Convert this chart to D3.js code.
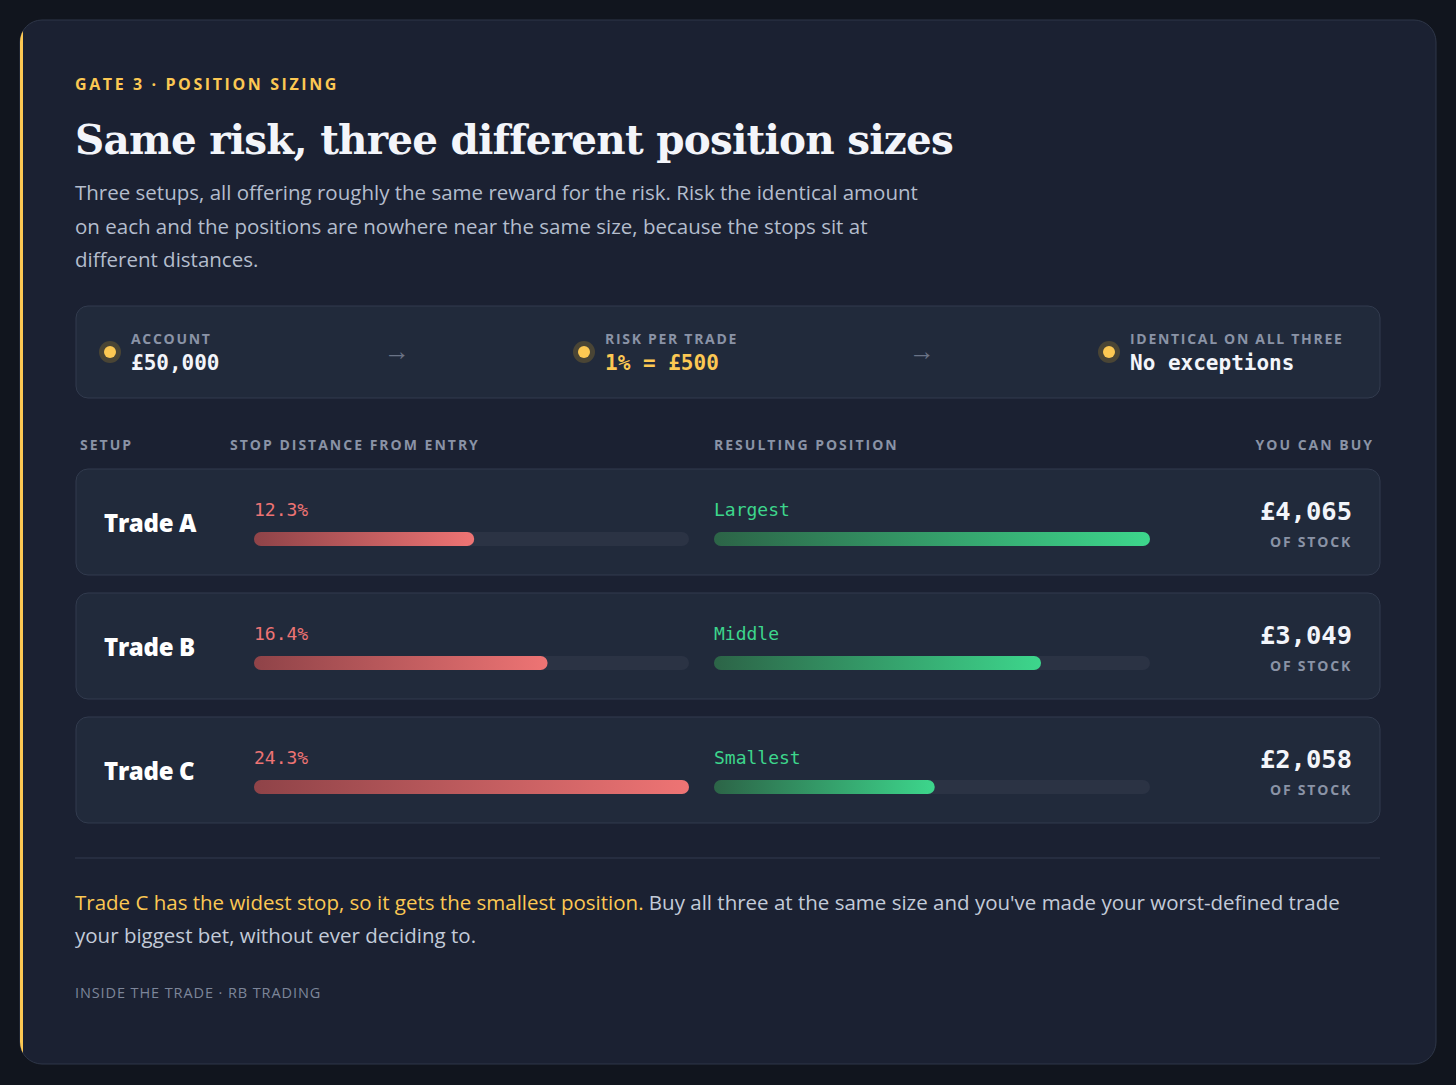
<!DOCTYPE html>
<html><head><meta charset="utf-8">
<script src="https://cdn.jsdelivr.net/npm/d3@7"></script>
<style>
  body { margin:0; background:#11151e; }
  svg text { font-family: "Open Sans", "Noto Sans", sans-serif; }
  .mono { font-family: "DejaVu Sans Mono", monospace !important; }
</style></head>
<body>
<svg id="chart" width="1456" height="1085"></svg>
<script>
// data
const trades = ["Trade A", "Trade B", "Trade C"];
const stopPct = [12.3, 16.4, 24.3];
const positionSize = [4065, 3049, 2058];
const sizeLabels = ["Largest", "Middle", "Smallest"];
const infoItems = [
  {label: "ACCOUNT", value: "£50,000", gold: false, x: 110},
  {label: "RISK PER TRADE", value: "1% = £500", gold: true, x: 584},
  {label: "IDENTICAL ON ALL THREE", value: "No exceptions", gold: false, x: 1109}
];
const subtitle = [
  "Three setups, all offering roughly the same reward for the risk. Risk the identical amount",
  "on each and the positions are nowhere near the same size, because the stops sit at",
  "different distances."
];

const svg = d3.select("#chart");
const defs = svg.append("defs");
const gold = "#fcc853", red = "#ee7474", green = "#3dd68c";

function grad(id, c0, c1) {
  const g = defs.append("linearGradient").attr("id", id);
  g.append("stop").attr("offset", "0%").attr("stop-color", c0);
  g.append("stop").attr("offset", "100%").attr("stop-color", c1);
}
grad("gRed", "#8f4348", red);
grad("gGreen", "#2c6447", green);

// card
defs.append("clipPath").attr("id", "cardClip").append("rect")
  .attr("x", 20).attr("y", 20).attr("width", 1416).attr("height", 1044).attr("rx", 22);
svg.append("rect").attr("x", 20).attr("y", 20).attr("width", 1416).attr("height", 1044).attr("rx", 22)
  .attr("fill", "#1b2132").attr("stroke", "#2e3648");
svg.append("rect").attr("clip-path", "url(#cardClip)").attr("x", 20).attr("y", 20)
  .attr("width", 3).attr("height", 1044).attr("fill", gold);

// header
svg.append("text").attr("x", 75).attr("y", 90).attr("fill", gold)
  .attr("font-size", 16).attr("font-weight", 700).attr("letter-spacing", 2.6)
  .text("GATE 3 · POSITION SIZING");
svg.append("text").attr("x", 75).attr("y", 154).attr("fill", "#f3f5fa")
  .style("font-family", "'DejaVu Serif', Georgia, serif").attr("font-size", 40.5).attr("font-weight", 700)
  .attr("letter-spacing", -0.8)
  .text("Same risk, three different position sizes");
svg.append("g").selectAll("text").data(subtitle).join("text")
  .attr("x", 75).attr("y", (d, i) => 200 + i * 33.5)
  .attr("fill", "#b4bdcd").attr("font-size", 20.5).text(d => d);

// info bar
svg.append("rect").attr("x", 76).attr("y", 306).attr("width", 1304).attr("height", 92).attr("rx", 12)
  .attr("fill", "#212a3b").attr("stroke", "#323b4e");
const info = svg.append("g").selectAll("g").data(infoItems).join("g")
  .attr("transform", d => `translate(${d.x},352)`);
info.append("circle").attr("r", 11).attr("fill", "#4a4535");
info.append("circle").attr("r", 6).attr("fill", gold);
info.append("text").attr("x", 21).attr("y", -8).attr("fill", "#8a93a6")
  .attr("font-size", 14).attr("font-weight", 700).attr("letter-spacing", 1.7).text(d => d.label);
info.append("text").attr("class", "mono").attr("x", 21).attr("y", 18)
  .attr("fill", d => d.gold ? gold : "#f3f5fa").attr("font-size", 21).attr("font-weight", 700)
  .text(d => d.value);
svg.append("g").selectAll("text").data([397, 922]).join("text")
  .attr("x", d => d).attr("y", 360).attr("text-anchor", "middle")
  .attr("fill", "#6a7386").attr("font-size", 26).text("→");

// column headers
const heads = [["SETUP", 80, "start"], ["STOP DISTANCE FROM ENTRY", 230, "start"],
               ["RESULTING POSITION", 714, "start"], ["YOU CAN BUY", 1374, "end"]];
svg.append("g").selectAll("text").data(heads).join("text")
  .attr("x", d => d[1]).attr("y", 450).attr("text-anchor", d => d[2])
  .attr("fill", "#8a93a6").attr("font-size", 14).attr("font-weight", 700)
  .attr("letter-spacing", 2).text(d => d[0]);

// scales
const stopX = d3.scaleLinear().domain([0, d3.max(stopPct)]).range([0, 435]);
const posX = d3.scaleLinear().domain([0, d3.max(positionSize)]).range([0, 436]);
const rowY = d3.scaleBand().domain(trades).range([469, 823]).paddingInner(0.145);

const rows = svg.append("g").selectAll("g").data(trades).join("g")
  .attr("transform", d => `translate(0,${rowY(d)})`);
rows.append("rect").attr("x", 76).attr("width", 1304).attr("height", rowY.bandwidth()).attr("rx", 12)
  .attr("fill", "#212a3b").attr("stroke", "#323b4e");
rows.append("text").attr("x", 104).attr("y", 63).attr("fill", "#ffffff")
  .attr("font-size", 24).attr("font-weight", 800).attr("letter-spacing", -0.3).text(d => d);

const barY = 63, barH = 14;
// stop bars
rows.append("rect").attr("x", 254).attr("y", barY).attr("width", stopX.range()[1]).attr("height", barH)
  .attr("rx", 7).attr("fill", "#2b3344");
rows.append("rect").attr("x", 254).attr("y", barY).attr("width", (d, i) => stopX(stopPct[i])).attr("height", barH)
  .attr("rx", 7).attr("fill", "url(#gRed)");
rows.append("text").attr("class", "mono").attr("x", 254).attr("y", 47).attr("fill", red)
  .attr("font-size", 18).text((d, i) => stopPct[i].toFixed(1) + "%");
// position bars
rows.append("rect").attr("x", 714).attr("y", barY).attr("width", posX.range()[1]).attr("height", barH)
  .attr("rx", 7).attr("fill", "#2b3344");
rows.append("rect").attr("x", 714).attr("y", barY).attr("width", (d, i) => posX(positionSize[i])).attr("height", barH)
  .attr("rx", 7).attr("fill", "url(#gGreen)");
rows.append("text").attr("class", "mono").attr("x", 714).attr("y", 47).attr("fill", green)
  .attr("font-size", 18).text((d, i) => sizeLabels[i]);
// values
rows.append("text").attr("class", "mono").attr("x", 1352).attr("y", 51).attr("text-anchor", "end")
  .attr("fill", "#f3f5fa").attr("font-size", 25.5).attr("font-weight", 700)
  .text((d, i) => "£" + d3.format(",")(positionSize[i]));
rows.append("text").attr("x", 1352).attr("y", 78).attr("text-anchor", "end")
  .attr("fill", "#8a93a6").attr("font-size", 14).attr("font-weight", 700).attr("letter-spacing", 1.8)
  .text("OF STOCK");

// divider & footer
svg.append("line").attr("x1", 75).attr("x2", 1380).attr("y1", 858).attr("y2", 858).attr("stroke", "#323b4e");
const f1 = svg.append("text").attr("x", 75).attr("y", 910).attr("font-size", 20.5).attr("fill", "#c3cbd9");
f1.append("tspan").attr("fill", gold).text("Trade C has the widest stop, so it gets the smallest position.");
f1.append("tspan").text(" Buy all three at the same size and you've made your worst-defined trade");
svg.append("text").attr("x", 75).attr("y", 943).attr("font-size", 20.5).attr("fill", "#c3cbd9")
  .text("your biggest bet, without ever deciding to.");
svg.append("text").attr("x", 75).attr("y", 998).attr("font-size", 14.5).attr("fill", "#7d869a")
  .attr("letter-spacing", 0.9).text("INSIDE THE TRADE · RB TRADING");
</script>
</body></html>
